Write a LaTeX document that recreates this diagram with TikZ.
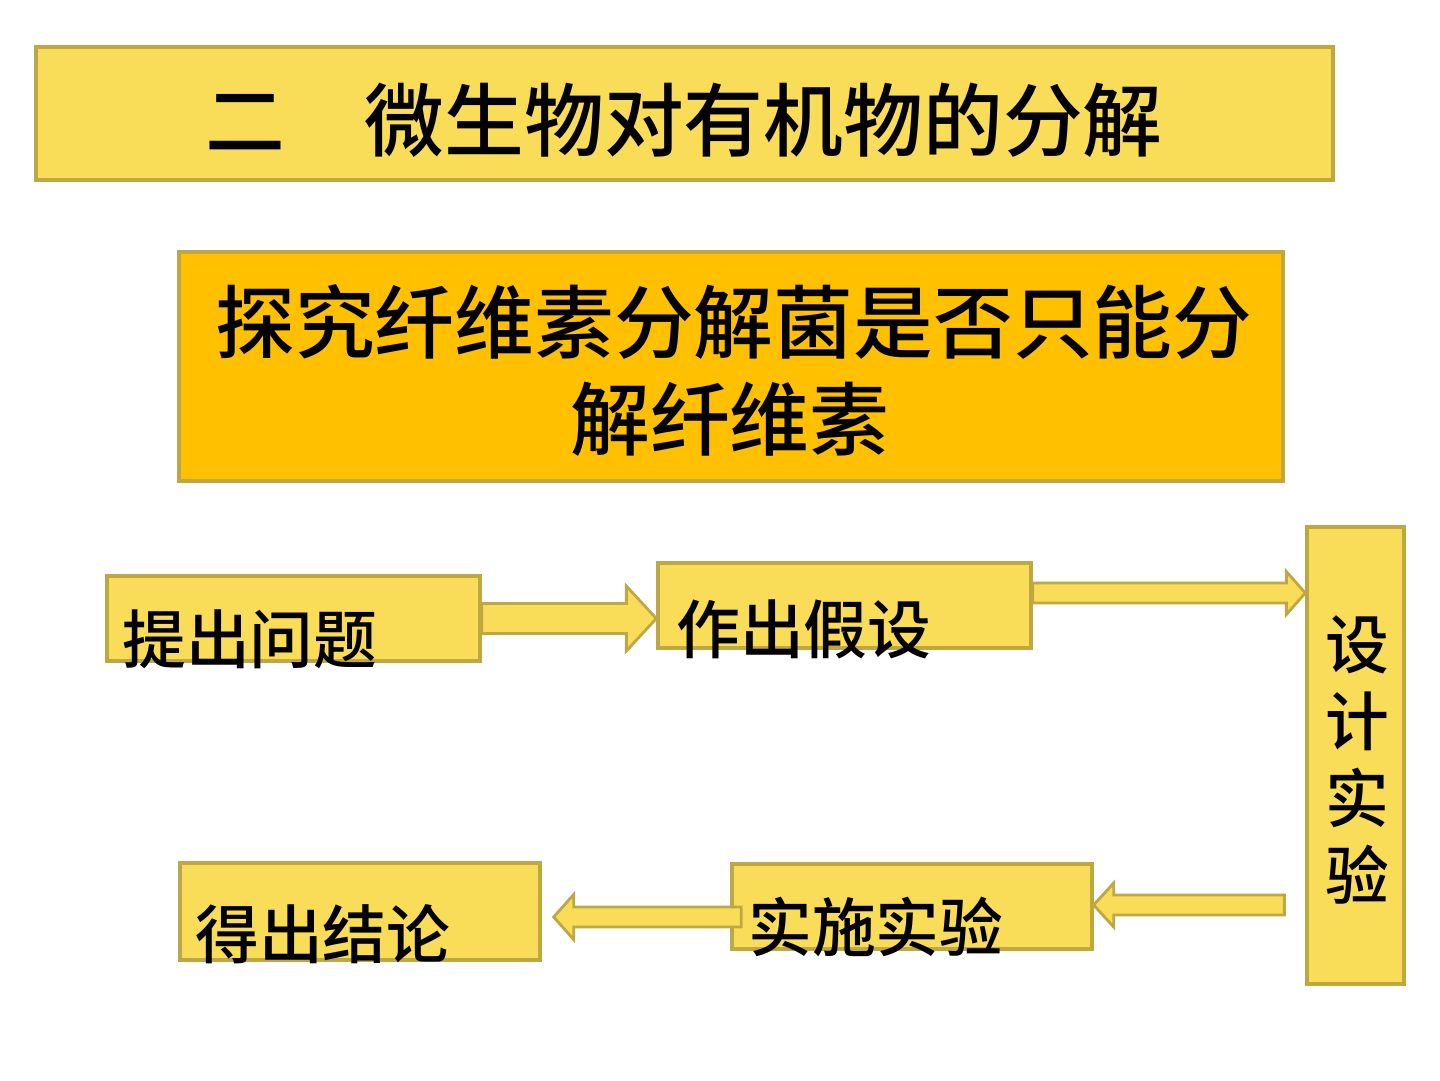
\documentclass[tikz,border=0pt]{standalone}
\usepackage{fontspec}
\newfontfamily\cjk{Noto Sans CJK SC}[UprightFont={* Medium},BoldFont={* Bold}]
\usetikzlibrary{calc}
\definecolor{ybox}{RGB}{249,220,88}
\definecolor{yedge}{RGB}{191,168,68}
\definecolor{obox}{RGB}{255,192,0}
\tikzset{
  px/.style={x=0.02cm,y=-0.02cm},
  boxy/.style={draw=yedge,line width=1.9pt,fill=ybox},
  boxo/.style={draw=yedge,line width=1.9pt,fill=obox},
  arrowy/.style={draw=yedge,line width=1.6pt,fill=ybox,line join=miter},
  bigtxt/.style={inner sep=0pt,font=\cjk\fontsize{45.4pt}{54pt}\selectfont},
  smalltxt/.style={inner sep=0pt,font=\cjk\fontsize{36.3pt}{43.7pt}\selectfont},
}
% #1 start, #2 tip, #3 shaft half, #4 head half, #5 head length (signed)
\newcommand\blockarr[5]{\draw[arrowy] let \p1=#1, \p2=#2 in
  (\x1,\y1+#3) -- (\x2-#5,\y1+#3) -- (\x2-#5,\y1+#4) -- (\x2,\y1)
  -- (\x2-#5,\y1-#4) -- (\x2-#5,\y1-#3) -- (\x1,\y1-#3) -- cycle;}
\begin{document}
\begin{tikzpicture}[px]
\useasboundingbox (0,0) rectangle (1440,1080);
\fill[white] (0,0) rectangle (1440,1080);
% title
\draw[boxy] (36,47) rectangle (1333,180);
\node[bigtxt,anchor=west] (title) at (205,120) {二　微生物对有机物的分解};
% orange box
\draw[boxo] (179,252) rectangle (1283,481);
\node[bigtxt,anchor=west] (q1) at (215,322) {探究纤维素分解菌是否只能分};
\node[bigtxt,anchor=west] (q2) at (570,419) {解纤维素};
% step boxes
\node[boxy,inner sep=0pt,minimum width=373*0.02cm,minimum height=85*0.02cm] (ask) at (293.5,618.5) {};
\node[boxy,inner sep=0pt,minimum width=373*0.02cm,minimum height=85*0.02cm] (hyp) at (844.5,605.5) {};
\node[boxy,inner sep=0pt,minimum width=97*0.02cm,minimum height=457*0.02cm] (des) at (1355.5,755.5) {};
\node[boxy,inner sep=0pt,minimum width=360*0.02cm,minimum height=85*0.02cm] (run) at (912,906.5) {};
\node[boxy,inner sep=0pt,minimum width=360*0.02cm,minimum height=97*0.02cm] (con) at (360,911.5) {};
% arrows
\blockarr{(ask.east)}{(hyp.west |- ask.east)}{0.3cm}{0.65cm}{0.6cm}
\blockarr{($(hyp.east)+(0,-12.5)$)}{($(des.west |- hyp.east)+(0,-12.5)$)}{0.2cm}{0.43cm}{0.38cm}
\blockarr{($(des.west |- run.east)+(-21,-1.5)$)}{($(run.east)+(0,-1.5)$)}{0.2cm}{0.44cm}{-0.4cm}
\blockarr{($(run.west)+(11,10.5)$)}{($(con.east)+(12,5.5)$)}{0.2cm}{0.45cm}{-0.4cm}
% texts
\node[smalltxt,anchor=west] (askt) at (122,639) {提出问题};
\node[smalltxt,anchor=west] (hypt) at (676,629) {作出假设};
\node[smalltxt,anchor=west] (runt) at (748,927) {实施实验};
\node[smalltxt,anchor=west] (cont) at (195,934) {得出结论};
\node[smalltxt,align=center] (dest) at (1357,760) {设\\计\\实\\验};
\end{tikzpicture}
\end{document}
